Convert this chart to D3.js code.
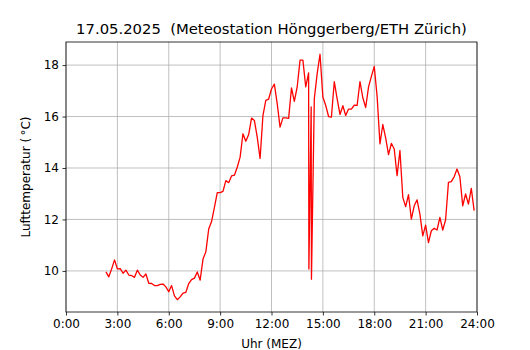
<!DOCTYPE html>
<html>
<head>
<meta charset="utf-8">
<script src="https://cdn.jsdelivr.net/npm/d3@7"></script>
<style>
  body { margin: 0; background: #fff; }
  svg { font-family: "DejaVu Sans", sans-serif; }
</style>
</head>
<body>
<div id="chart"></div>
<script>
// measurement times (Uhr, MEZ)
const times = [
  "2:20","2:30","2:40","2:50","3:00","3:10","3:20","3:30","3:40","3:50",
  "4:00","4:10","4:20","4:30","4:40","4:50","5:00","5:10","5:20","5:30",
  "5:40","5:50","6:00","6:10","6:20","6:30","6:40","6:50","7:00","7:10",
  "7:20","7:30","7:40","7:50","8:00","8:10","8:20","8:30","8:40","8:50",
  "9:00","9:10","9:20","9:30","9:40","9:50","10:00","10:10","10:20","10:30",
  "10:40","10:50","11:00","11:10","11:20","11:30","11:40","11:50","12:00","12:10",
  "12:20","12:30","12:40","12:50","13:00","13:10","13:20","13:30","13:40","13:50",
  "14:00","14:10","14:11","14:19","14:20","14:30","14:40","14:50","15:00","15:10",
  "15:20","15:30","15:40","15:50","16:00","16:10","16:20","16:30","16:40","16:50",
  "17:00","17:10","17:20","17:30","17:40","17:50","18:00","18:10","18:20","18:30",
  "18:40","18:50","19:00","19:10","19:20","19:30","19:40","19:50","20:00","20:10",
  "20:20","20:30","20:40","20:50","21:00","21:10","21:20","21:30","21:40","21:50",
  "22:00","22:10","22:20","22:30","22:40","22:50","23:00","23:10","23:20","23:30",
  "23:40","23:50"
];

// air temperature (°C)
const temps = [
  9.96, 9.77, 10.08, 10.43, 10.08, 10.09, 9.91, 10.03, 9.84, 9.82,
  9.75, 10.03, 9.84, 9.75, 9.88, 9.52, 9.51, 9.43, 9.43, 9.48,
  9.49, 9.38, 9.19, 9.43, 9.03, 8.88, 8.99, 9.14, 9.17, 9.51,
  9.66, 9.72, 9.96, 9.64, 10.46, 10.74, 11.63, 11.92, 12.47, 13.04,
  13.04, 13.09, 13.51, 13.43, 13.69, 13.72, 14.03, 14.42, 15.33, 15.04,
  15.30, 15.94, 15.85, 15.20, 14.37, 16.04, 16.63, 16.68, 17.07, 17.26,
  16.50, 15.59, 15.95, 15.95, 15.93, 17.11, 16.59, 17.15, 18.19, 18.19,
  17.15, 17.70, 10.07, 16.37, 9.68, 16.69, 17.67, 18.42, 16.76, 16.43,
  16.00, 15.98, 17.36, 16.69, 16.08, 16.42, 16.04, 16.29, 16.29, 16.44,
  16.43, 17.36, 16.73, 16.35, 17.15, 17.56, 17.95, 16.79, 14.94, 15.69,
  15.17, 14.52, 14.96, 14.74, 13.70, 14.68, 12.86, 12.50, 12.96, 12.01,
  12.53, 12.76, 12.21, 11.36, 11.78, 11.10, 11.56, 11.66, 11.59, 12.08,
  11.59, 11.99, 13.44, 13.47, 13.66, 13.96, 13.66, 12.53, 12.99, 12.60,
  13.21, 12.34
];

const xTicks = [0, 3, 6, 9, 12, 15, 18, 21, 24];
const yTicks = [10, 12, 14, 16, 18];
const title = "17.05.2025  (Meteostation Hönggerberg/ETH Zürich)";

const width = 530, height = 350;
const margin = { top: 42, right: 53, bottom: 38, left: 66 };

const toHours = (s) => {
  const [h, m] = s.split(":").map(Number);
  return h + m / 60;
};
const data = times.map((t, i) => ({ h: toHours(t), v: temps[i] }));

const svg = d3.select("#chart").append("svg")
  .attr("width", width)
  .attr("height", height);

const x = d3.scaleLinear()
  .domain([0, 24])
  .range([margin.left, width - margin.right]);

// matplotlib-like 5% padding
const [lo, hi] = d3.extent(temps);
const pad = (hi - lo) * 0.05;
const y = d3.scaleLinear()
  .domain([lo - pad, hi + pad])
  .range([height - margin.bottom, margin.top]);

//grid
svg.append("g")
  .selectAll("line.gx")
  .data(xTicks)
  .join("line")
  .attr("x1", (d) => x(d)).attr("x2", (d) => x(d))
  .attr("y1", margin.top).attr("y2", height - margin.bottom)
  .attr("stroke", "#b0b0b0").attr("stroke-width", 0.8);

svg.append("g")
  .selectAll("line.gy")
  .data(yTicks)
  .join("line")
  .attr("x1", margin.left).attr("x2", width - margin.right)
  .attr("y1", (d) => y(d)).attr("y2", (d) => y(d))
  .attr("stroke", "#b0b0b0").attr("stroke-width", 0.8);

//temperature line
svg.append("path")
  .datum(data)
  .attr("fill", "none")
  .attr("stroke", "#ff0000")
  .attr("stroke-width", 1.3)
  .attr("stroke-linejoin", "round")
  .attr("d", d3.line().x((d) => x(d.h)).y((d) => y(d.v)));

//axes
const xAxis = svg.append("g")
  .attr("transform", `translate(0,${height - margin.bottom})`)
  .call(d3.axisBottom(x).tickValues(xTicks).tickFormat((d) => `${d}:00`)
    .tickSizeInner(3.5).tickSizeOuter(0).tickPadding(3.5));

const yAxis = svg.append("g")
  .attr("transform", `translate(${margin.left},0)`)
  .call(d3.axisLeft(y).tickValues(yTicks)
    .tickSizeInner(3.5).tickSizeOuter(0).tickPadding(3.5));

[xAxis, yAxis].forEach((g) => {
  g.select(".domain").remove();
  g.selectAll("line").attr("stroke", "#000").attr("stroke-width", 0.8);
  g.selectAll("text")
    .attr("fill", "#000")
    .style("font-family", "DejaVu Sans, sans-serif")
    .style("font-size", "12px");
});

//frame
svg.append("rect")
  .attr("x", margin.left)
  .attr("y", margin.top)
  .attr("width", width - margin.left - margin.right)
  .attr("height", height - margin.top - margin.bottom)
  .attr("fill", "none")
  .attr("stroke", "#000")
  .attr("stroke-width", 0.8);

//labels
svg.append("text")
  .attr("x", (margin.left + width - margin.right) / 2)
  .attr("y", 34)
  .attr("text-anchor", "middle")
  .style("font-size", "14.8px")
  .style("white-space", "pre")
  .text(title);

svg.append("text")
  .attr("x", (margin.left + width - margin.right) / 2)
  .attr("y", 348)
  .attr("text-anchor", "middle")
  .style("font-size", "12px")
  .text("Uhr (MEZ)");

svg.append("text")
  .attr("transform", `translate(30,${(margin.top + height - margin.bottom) / 2}) rotate(-90)`)
  .attr("text-anchor", "middle")
  .style("font-size", "12px")
  .text("Lufttemperatur (\u2009°C)");
</script>
</body>
</html>
